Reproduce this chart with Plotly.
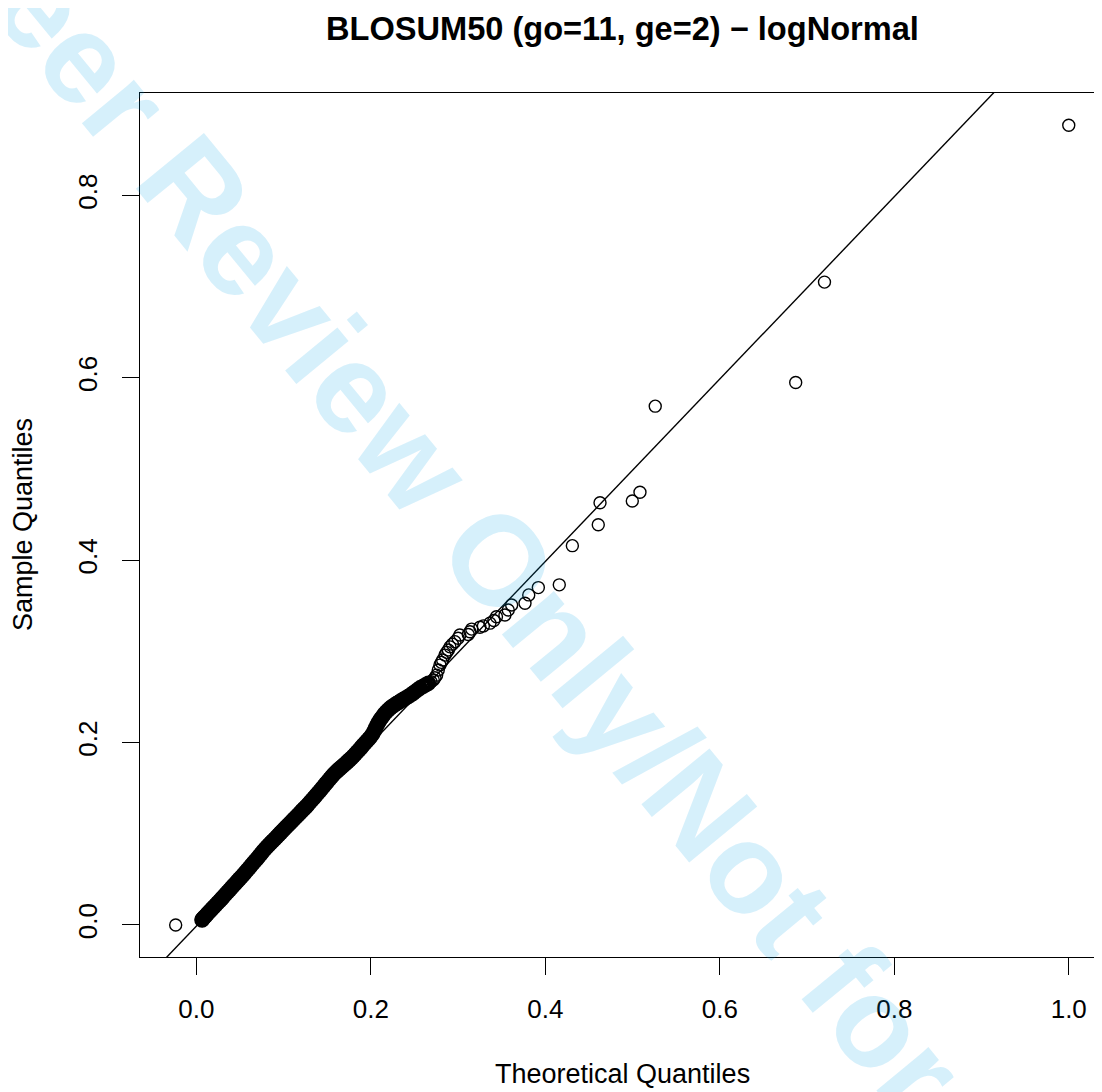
import plotly.graph_objects as go

# ---------------- data ----------------
theoretical_q = [
    -0.0237,
    0.0065, 0.0070, 0.0078, 0.0090, 0.0105, 0.0122, 0.0140, 0.0160, 0.0180, 0.0200,
    0.0222, 0.0245, 0.0268, 0.0290, 0.0312, 0.0335, 0.0358, 0.0380, 0.0402, 0.0425,
    0.0448, 0.0470, 0.0492, 0.0515, 0.0538, 0.0560, 0.0582, 0.0605, 0.0628, 0.0650,
    0.0672, 0.0695, 0.0718, 0.0740, 0.0762, 0.0785, 0.0808, 0.0830, 0.0852, 0.0875,
    0.0898, 0.0920, 0.0942, 0.0965, 0.0988, 0.1010, 0.1032, 0.1055, 0.1078, 0.1100,
    0.1122, 0.1145, 0.1168, 0.1190, 0.1212, 0.1235, 0.1258, 0.1280, 0.1302, 0.1325,
    0.1348, 0.1370, 0.1392, 0.1415, 0.1438, 0.1460, 0.1482, 0.1505, 0.1528, 0.1550,
    0.1572, 0.1595, 0.1618, 0.1640, 0.1662, 0.1685, 0.1708, 0.1730, 0.1752, 0.1775,
    0.1798, 0.1820, 0.1842, 0.1865, 0.1888, 0.1910, 0.1932, 0.1955, 0.1978, 0.2000,
    0.2020, 0.2040, 0.2058, 0.2075, 0.2092, 0.2110, 0.2130, 0.2152, 0.2175, 0.2198,
    0.2220, 0.2245, 0.2270, 0.2295, 0.2320, 0.2345, 0.2372, 0.2400, 0.2428, 0.2455,
    0.2482, 0.2510, 0.2540, 0.2565,
    0.2600, 0.2630, 0.2660, 0.2690, 0.2716, 0.2735, 0.2754, 0.2773, 0.2792, 0.2808,
    0.2823, 0.2850, 0.2870, 0.2888, 0.2907, 0.2935, 0.2964, 0.3000, 0.3020, 0.3117,
    0.3136, 0.3156, 0.3250, 0.3290, 0.3365, 0.3410, 0.3440, 0.3537, 0.3575, 0.3614,
    0.3767, 0.3810, 0.3920, 0.4160, 0.4310, 0.4607, 0.4627, 0.4997, 0.5085, 0.5260,
    0.6870, 0.7200, 1.0000,
]
sample_q = [
    0.0000,
    0.0055, 0.0062, 0.0071, 0.0084, 0.0099, 0.0117, 0.0136, 0.0156, 0.0177, 0.0197,
    0.0219, 0.0243, 0.0266, 0.0289, 0.0312, 0.0337, 0.0361, 0.0384, 0.0408, 0.0432,
    0.0456, 0.0480, 0.0503, 0.0527, 0.0551, 0.0575, 0.0600, 0.0625, 0.0652, 0.0676,
    0.0701, 0.0727, 0.0753, 0.0778, 0.0805, 0.0831, 0.0856, 0.0878, 0.0900, 0.0921,
    0.0943, 0.0966, 0.0988, 0.1010, 0.1033, 0.1056, 0.1078, 0.1100, 0.1122, 0.1144,
    0.1165, 0.1188, 0.1210, 0.1232, 0.1254, 0.1276, 0.1298, 0.1321, 0.1345, 0.1370,
    0.1395, 0.1420, 0.1445, 0.1470, 0.1496, 0.1522, 0.1548, 0.1574, 0.1600, 0.1625,
    0.1650, 0.1672, 0.1693, 0.1712, 0.1731, 0.1750, 0.1769, 0.1789, 0.1808, 0.1829,
    0.1851, 0.1873, 0.1896, 0.1920, 0.1945, 0.1970, 0.1994, 0.2018, 0.2042, 0.2066,
    0.2094, 0.2130, 0.2165, 0.2198, 0.2228, 0.2256, 0.2282, 0.2310, 0.2335, 0.2358,
    0.2378, 0.2396, 0.2412, 0.2428, 0.2443, 0.2458, 0.2474, 0.2490, 0.2506, 0.2522,
    0.2540, 0.2560, 0.2582, 0.2600,
    0.2618, 0.2635, 0.2650, 0.2668, 0.2687, 0.2712, 0.2740, 0.2796, 0.2850, 0.2880,
    0.2906, 0.2960, 0.2990, 0.3016, 0.3050, 0.3080, 0.3107, 0.3144, 0.3180, 0.3186,
    0.3216, 0.3245, 0.3265, 0.3280, 0.3310, 0.3340, 0.3380, 0.3400, 0.3454, 0.3510,
    0.3528, 0.3620, 0.3700, 0.3730, 0.4160, 0.4390, 0.4630, 0.4650, 0.4745, 0.5690,
    0.5950, 0.7050, 0.8770,
]
qqline_slope = 1.0
qqline_intercept = -0.0013

x_tick_vals = [0.0, 0.2, 0.4, 0.6, 0.8, 1.0]
x_tick_text = ["0.0", "0.2", "0.4", "0.6", "0.8", "1.0"]
y_tick_vals = [0.0, 0.2, 0.4, 0.6, 0.8]
y_tick_text = ["0.0", "0.2", "0.4", "0.6", "0.8"]

title_text = "BLOSUM50 (go=11, ge=2) \u2212 logNormal"
x_label = "Theoretical Quantiles"
y_label = "Sample Quantiles"
watermark_text = "For Peer Review Only/Not for Distribution"

# ---------------- figure ----------------
FONT = "Liberation Sans, Arial, Helvetica, sans-serif"
X_RANGE = [-0.0646, 1.0381]
Y_RANGE = [-0.0351, 0.9124]

# page body has an 8px default margin: lay out in screen pixels and shift
OFF = 8
W, H = 1102 - OFF, 1092 - OFF
L, R, T, B = 140 - OFF, 0, 93 - OFF, 1092 - 957
pw, ph = W - L - R, H - T - B


def px(sx):
    return (sx - OFF - L) / pw


def py(sy):
    return (H - B - (sy - OFF)) / ph


# the heavily overplotted part of the sample draws as a solid band
DENSE_MAX = 0.266
dense_x = [a for a in theoretical_q if 0 < a <= DENSE_MAX]
dense_y = [b for a, b in zip(theoretical_q, sample_q) if 0 < a <= DENSE_MAX]
sparse_x = [a for a in theoretical_q if not (0 < a <= DENSE_MAX)]
sparse_y = [b for a, b in zip(theoretical_q, sample_q) if not (0 < a <= DENSE_MAX)]

fig = go.Figure()

fig.add_trace(go.Scatter(
    x=dense_x, y=dense_y, mode="markers",
    marker=dict(symbol="circle-open", size=12, color="black",
                line=dict(width=3.6, color="black")),
    hoverinfo="skip", showlegend=False,
))
fig.add_trace(go.Scatter(
    x=sparse_x, y=sparse_y, mode="markers",
    marker=dict(symbol="circle-open", size=12, color="black",
                line=dict(width=1.4, color="black")),
    hoverinfo="skip", showlegend=False,
))

lx = [X_RANGE[0] - 0.1, X_RANGE[1] + 0.1]
ly = [qqline_intercept + qqline_slope * v for v in lx]
fig.add_trace(go.Scatter(
    x=lx, y=ly, mode="lines", line=dict(color="black", width=1.4),
    hoverinfo="skip", showlegend=False,
))

axis_common = dict(
    showgrid=False, zeroline=False, showline=True, linecolor="black", linewidth=1.4,
    ticks="outside", ticklen=17, tickwidth=1.4, tickcolor="black",
    tickfont=dict(family=FONT, size=26, color="black"),
)

fig.update_xaxes(range=X_RANGE, tickvals=x_tick_vals, ticktext=x_tick_text,
                 mirror=True, ticklabelstandoff=12, **axis_common)
fig.update_yaxes(range=Y_RANGE, tickvals=y_tick_vals, ticktext=y_tick_text,
                 tickangle=-90, ticklabelstandoff=14, **axis_common)

annotations = [
    dict(text=x_label, xref="paper", yref="paper",
         x=px(622), y=py(1074), xanchor="center", yanchor="middle",
         showarrow=False, font=dict(family=FONT, size=27, color="black")),
    dict(text=y_label, xref="paper", yref="paper",
         x=px(23), y=py(525), xanchor="center", yanchor="middle", textangle=-90,
         showarrow=False, font=dict(family=FONT, size=27, color="black")),
    dict(text="<b>" + title_text + "</b>", xref="paper", yref="paper",
         x=px(622), y=py(28), xanchor="center", yanchor="middle",
         showarrow=False, font=dict(family=FONT, size=32.6, color="black")),
    dict(text="<b>" + watermark_text + "</b>", xref="paper", yref="paper",
         x=px(614), y=py(700), xanchor="center", yanchor="middle",
         textangle=50.6, showarrow=False,
         font=dict(family=FONT, size=128, color="rgba(0,160,230,0.16)")),
]

fig.update_layout(
    width=W, height=H,
    margin=dict(l=L, r=R, t=T, b=B, pad=0),
    paper_bgcolor="white", plot_bgcolor="white",
    annotations=annotations,
    showlegend=False,
)

fig.write_html("out.html")
